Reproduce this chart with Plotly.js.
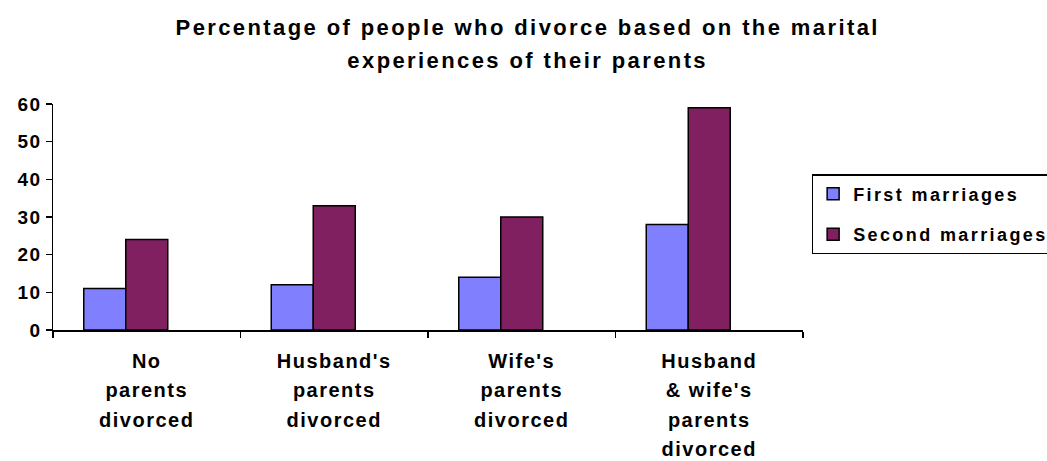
<!DOCTYPE html>
<html>
<head>
<meta charset="utf-8">
<script src="https://cdn.plot.ly/plotly-3.0.1.min.js"></script>
<style>
html, body { margin: 0; padding: 0; background: #fff; }
#chart { width: 1047px; height: 461px; }
.main-svg .gtitle { letter-spacing: 2.4px; }
.main-svg .xtick text { letter-spacing: 1.5px; }
.main-svg .ytick text { letter-spacing: 1.5px; }
.legendtext { letter-spacing: 2.4px; }
</style>
</head>
<body>
<div id="chart"></div>
<script>
const categories = [
  "No<br>parents<br>divorced",
  "Husband's<br>parents<br>divorced",
  "Wife's<br>parents<br>divorced",
  "Husband<br>& wife's<br>parents<br>divorced"
];
const firstMarriages = [11, 12, 14, 28];
const secondMarriages = [24, 33, 30, 59];
const seriesNames = ["First marriages", "Second marriages"];
const yTicks = [0, 10, 20, 30, 40, 50, 60];

const FONT = "Liberation Sans, Arial, sans-serif";

const traces = [
  {
    type: "bar",
    name: seriesNames[0],
    x: categories,
    y: firstMarriages,
    width: 0.224,
    offset: -0.336,
    legendgroup: "g1",
    marker: { color: "#8080FF", line: { color: "#000000", width: 1.5 } },
    hoverinfo: "y"
  },
  {
    type: "bar",
    name: seriesNames[1],
    x: categories,
    y: secondMarriages,
    width: 0.224,
    offset: -0.112,
    legendgroup: "g2",
    marker: { color: "#802060", line: { color: "#000000", width: 1.5 } },
    hoverinfo: "y"
  }
];

const layout = {
  width: 1047,
  height: 461,
  paper_bgcolor: "#ffffff",
  plot_bgcolor: "#ffffff",
  font: { family: FONT, color: "#000000" },
  margin: { l: 53, r: 244, t: 104, b: 131, pad: 0, autoexpand: false },
  title: {
    text: "<b>Percentage of people who divorce based on the marital<br>experiences of their parents</b>",
    font: { family: FONT, size: 22, color: "#000000" },
    x: 0.504,
    xanchor: "center",
    xref: "container",
    yref: "container",
    y: 0.925,
    yanchor: "top"
  },
  xaxis: {
    type: "category",
    showline: true,
    linecolor: "#000000",
    linewidth: 1.5,
    ticks: "outside",
    tickson: "boundaries",
    ticklen: 6,
    tickwidth: 1.5,
    tickcolor: "#000000",
    ticklabelstandoff: 12,
    showgrid: false,
    zeroline: false,
    tickfont: { family: FONT, size: 20, color: "#000000", weight: "bold" },
    fixedrange: true
  },
  yaxis: {
    range: [0, 60],
    tickvals: yTicks,
    ticktext: yTicks.map(String),
    showline: true,
    linecolor: "#000000",
    linewidth: 1.5,
    ticks: "outside",
    ticklen: 6,
    tickwidth: 1.5,
    tickcolor: "#000000",
    showgrid: false,
    zeroline: false,
    tickfont: { family: FONT, size: 19, color: "#000000", weight: "bold" },
    fixedrange: true
  },
  showlegend: true,
  legend: {
    x: 1.0115,
    xanchor: "left",
    y: 0.69,
    yanchor: "top",
    bordercolor: "#000000",
    borderwidth: 1.5,
    bgcolor: "#ffffff",
    tracegroupgap: 14,
    font: { family: FONT, size: 18, color: "#000000", weight: "bold" }
  },
  bargap: 0,
  barmode: "overlay"
};

function spreadLines(selector, em) {
  document.querySelectorAll(selector).forEach(function (txt) {
    const lines = txt.querySelectorAll(":scope > tspan.line");
    lines.forEach(function (ln, i) {
      ln.setAttribute("dy", (i * em) + "em");
    });
  });
}

Plotly.newPlot("chart", traces, layout, { displayModeBar: false, staticPlot: true }).then(function () {
  spreadLines(".gtitle", 1.5);
  spreadLines(".xtick text", 1.48);
});
</script>
</body>
</html>
